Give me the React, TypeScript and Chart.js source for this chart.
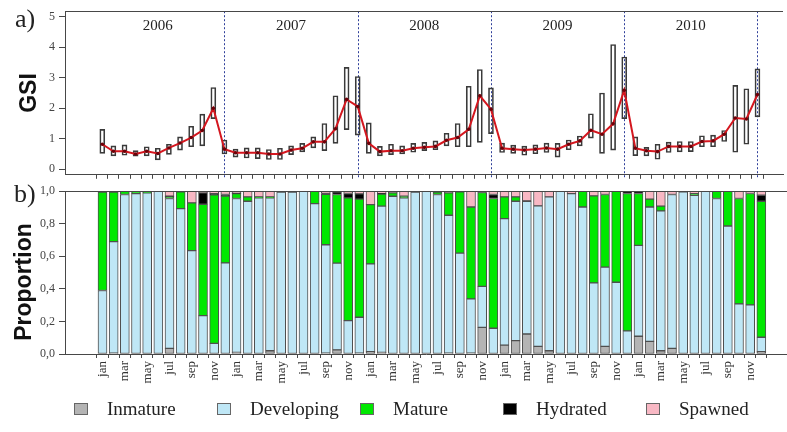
import React, { useEffect, useRef } from 'react';
import { Chart, registerables } from 'chart.js';

Chart.register(...registerables);

// ---------- data ----------
const months = ['jan', 'feb', 'mar', 'apr', 'may', 'jun', 'jul', 'aug', 'sep', 'oct', 'nov', 'dec'];
const years = ['2006', '2007', '2008', '2009', '2010'];

const gsiMedian = [
  0.82, 0.59, 0.59, 0.5, 0.59, 0.52, 0.7, 0.86, 1.04, 1.27, 2.0, 0.66,
  0.54, 0.54, 0.54, 0.5, 0.5, 0.63, 0.69, 0.9, 0.9, 1.33, 2.29, 2.06,
  0.85, 0.58, 0.61, 0.61, 0.69, 0.72, 0.75, 0.95, 1.04, 1.31, 2.41, 1.97,
  0.69, 0.66, 0.63, 0.66, 0.7, 0.66, 0.82, 0.93, 1.28, 1.15, 1.49, 2.59,
  0.69, 0.61, 0.58, 0.75, 0.75, 0.75, 0.91, 0.93, 1.15, 1.68, 1.65, 2.45,
];
const gsiQ1 = [
  0.52, 0.44, 0.46, 0.43, 0.44, 0.31, 0.49, 0.63, 0.74, 0.77, 1.66, 0.5,
  0.4, 0.37, 0.35, 0.32, 0.32, 0.48, 0.57, 0.7, 0.61, 0.85, 1.3, 1.12,
  0.52, 0.44, 0.48, 0.5, 0.56, 0.61, 0.64, 0.77, 0.74, 0.74, 0.88, 1.17,
  0.55, 0.52, 0.46, 0.51, 0.55, 0.4, 0.64, 0.77, 1.02, 0.52, 0.63, 1.66,
  0.45, 0.44, 0.33, 0.55, 0.57, 0.58, 0.74, 0.74, 0.91, 0.56, 0.82, 1.72,
];
const gsiQ3 = [
  1.31, 0.77, 0.8, 0.61, 0.74, 0.69, 0.82, 1.06, 1.41, 1.81, 2.68, 0.96,
  0.66, 0.7, 0.7, 0.65, 0.69, 0.77, 0.85, 1.06, 1.5, 2.41, 3.34, 3.04,
  1.52, 0.75, 0.82, 0.77, 0.85, 0.88, 0.93, 1.18, 1.5, 2.72, 3.27, 2.67,
  0.86, 0.79, 0.76, 0.8, 0.86, 0.85, 0.96, 1.09, 1.82, 2.5, 4.09, 3.68,
  1.06, 0.72, 0.82, 0.89, 0.91, 0.91, 1.1, 1.12, 1.27, 2.75, 2.64, 3.29,
];

const inmature = [
  0, 0.005, 0, 0, 0, 0, 0.035, 0, 0, 0, 0, 0,
  0.01, 0, 0, 0.02, 0, 0, 0, 0, 0.005, 0.025, 0, 0.005,
  0.015, 0.01, 0, 0, 0, 0, 0, 0.005, 0, 0.005, 0.164, 0,
  0.055, 0.082, 0.123, 0.047, 0.02, 0, 0, 0, 0, 0.047, 0, 0,
  0.109, 0.078, 0.02, 0.035, 0, 0, 0, 0, 0, 0, 0, 0.015,
];
const developing = [
  0.39, 0.685, 0.98, 0.985, 0.99, 1.0, 0.92, 0.893, 0.635, 0.236, 0.065, 0.56,
  0.945, 0.938, 0.96, 0.94, 0.995, 0.995, 1.0, 0.924, 0.666, 0.533, 0.205, 0.221,
  0.539, 0.898, 0.969, 0.959, 0.995, 1.0, 0.98, 0.847, 0.62, 0.334, 0.251, 0.158,
  0.777, 0.856, 0.815, 0.863, 0.945, 1.0, 0.985, 0.903, 0.437, 0.487, 0.441, 0.142,
  0.558, 0.825, 0.859, 0.945, 0.996, 0.975, 1.0, 0.955, 0.786, 0.308, 0.302, 0.088,
];
const mature = [
  0.605, 0.305, 0.02, 0.012, 0.005, 0, 0.01, 0.103, 0.293, 0.684, 0.913, 0.41,
  0.03, 0.027, 0.005, 0.005, 0, 0.005, 0, 0.076, 0.31, 0.422, 0.754, 0.725,
  0.364, 0.074, 0.021, 0.01, 0, 0, 0.015, 0.138, 0.376, 0.564, 0.577, 0.797,
  0.133, 0.027, 0, 0, 0, 0, 0, 0.097, 0.534, 0.446, 0.559, 0.844,
  0.319, 0.048, 0.029, 0, 0, 0.01, 0, 0.045, 0.214, 0.647, 0.684, 0.835,
];
const hydrated = [
  0.005, 0.005, 0, 0.003, 0.005, 0, 0.005, 0, 0, 0.07, 0.007, 0.01,
  0.003, 0, 0, 0, 0.005, 0, 0, 0, 0.005, 0.015, 0.027, 0.033,
  0, 0.003, 0, 0, 0.005, 0, 0.005, 0, 0, 0, 0.005, 0.025,
  0, 0, 0.002, 0, 0, 0, 0, 0, 0, 0, 0, 0.014,
  0.014, 0, 0, 0, 0.004, 0, 0, 0, 0, 0, 0, 0.037,
];
const spawned = [
  0, 0, 0, 0, 0, 0, 0.03, 0.004, 0.072, 0.01, 0.015, 0.02,
  0.012, 0.035, 0.035, 0.035, 0, 0, 0, 0, 0.014, 0.005, 0.014, 0.016,
  0.082, 0.015, 0.01, 0.031, 0, 0, 0, 0.01, 0.004, 0.097, 0.003, 0.02,
  0.035, 0.035, 0.06, 0.09, 0.035, 0, 0.015, 0, 0.029, 0.02, 0, 0,
  0, 0.049, 0.092, 0.02, 0, 0.015, 0, 0, 0, 0.045, 0.014, 0.025,
];

const stageNames = ['Inmature', 'Developing', 'Mature', 'Hydrated', 'Spawned'];
const stageValues = [inmature, developing, mature, hydrated, spawned];
const stageColors = ['#b4b4b4', '#bfe7f6', '#00e800', '#000000', '#f8b8c4'];

const gsiTicks = [0, 1, 2, 3, 4, 5];
const propTicks = [0, 0.2, 0.4, 0.6, 0.8, 1.0];

// ---------- layout constants ----------
const X_MIN = -2.82;
const X_MAX = 60.76;
const AXIS_COLOR = '#474747';
const SERIF = '"Liberation Serif", "Times New Roman", serif';
const SANS = '"Liberation Sans", Arial, sans-serif';

const monthIdx = gsiMedian.map((_, i) => i);

const boxPlugin = {
  id: 'topDecor',
  beforeDatasetsDraw(chart: any) {
    const { ctx, chartArea, scales } = chart;
    ctx.save();
    ctx.strokeStyle = '#2f3f9a';
    ctx.lineWidth = 1;
    ctx.setLineDash([2, 2]);
    for (let y = 0; y < years.length; y++) {
      const px = Math.round(scales.x.getPixelForValue(y * 12 + 11)) + 0.5;
      ctx.beginPath();
      ctx.moveTo(px, chartArea.top);
      ctx.lineTo(px, chartArea.bottom + 4);
      ctx.stroke();
    }
    ctx.restore();
  },
  afterDraw(chart: any) {
    const { ctx, chartArea, scales } = chart;
    ctx.save();
    ctx.strokeStyle = AXIS_COLOR;
    ctx.lineWidth = 1;
    ctx.beginPath();
    ctx.moveTo(chartArea.left, Math.round(chartArea.top) + 0.5);
    ctx.lineTo(chartArea.right, Math.round(chartArea.top) + 0.5);
    ctx.stroke();
    ctx.fillStyle = '#222';
    ctx.font = `15px ${SERIF}`;
    ctx.textAlign = 'center';
    ctx.textBaseline = 'alphabetic';
    years.forEach((yr, k) => {
      ctx.fillText(yr, scales.x.getPixelForValue(k * 12 + 5), 30);
    });
    ctx.textAlign = 'left';
    ctx.font = `26px ${SERIF}`;
    ctx.fillText('a)', 15, 27);
    ctx.restore();
  },
};

const bottomPlugin = {
  id: 'bottomDecor',
  afterDraw(chart: any) {
    const { ctx, chartArea } = chart;
    ctx.save();
    ctx.strokeStyle = AXIS_COLOR;
    ctx.lineWidth = 1;
    ctx.beginPath();
    ctx.moveTo(chartArea.left, Math.round(chartArea.top) + 0.5);
    ctx.lineTo(chartArea.right, Math.round(chartArea.top) + 0.5);
    ctx.stroke();
    ctx.fillStyle = '#222';
    ctx.font = `26px ${SERIF}`;
    ctx.textAlign = 'left';
    ctx.textBaseline = 'alphabetic';
    ctx.fillText('b)', 14, 22);
    // y-axis title
    ctx.save();
    ctx.translate(25, 102);
    ctx.rotate(-Math.PI / 2);
    ctx.font = `bold 23px ${SANS}`;
    ctx.fillStyle = '#111';
    ctx.textAlign = 'center';
    ctx.textBaseline = 'middle';
    ctx.fillText('Proportion', 0, 0);
    ctx.restore();
    // legend
    const yc = 229;
    ctx.font = `19px ${SERIF}`;
    ctx.textBaseline = 'middle';
    stageNames.forEach((name, k) => {
      const bx = 74 + 143 * k;
      ctx.fillStyle = stageColors[k];
      ctx.fillRect(bx, yc - 6, 14, 12);
      ctx.strokeStyle = '#666';
      ctx.strokeRect(bx + 0.5, yc - 5.5, 13, 11);
      ctx.fillStyle = '#222';
      ctx.fillText(name, bx + 33, yc + 1);
    });
    ctx.restore();
  },
};

export default function App() {
  const topRef = useRef<HTMLCanvasElement>(null);
  const botRef = useRef<HTMLCanvasElement>(null);

  useEffect(() => {
    const tickFont = { family: SERIF, size: 12 };
    const top = new Chart(topRef.current as HTMLCanvasElement, {
      type: 'bar',
      data: {
        datasets: [
          {
            type: 'line',
            label: 'GSI',
            data: gsiMedian.map((v, i) => ({ x: i, y: v })),
            borderColor: '#d4171f',
            borderWidth: 2,
            pointRadius: 1.8,
            pointBackgroundColor: '#6e0008',
            pointBorderWidth: 0,
            tension: 0,
            order: 0,
          } as any,
          {
            type: 'bar',
            label: 'GSI box',
            data: gsiQ1.map((v, i) => ({ x: i, y: [v, gsiQ3[i]] })),
            backgroundColor: 'rgba(255,255,255,0)',
            borderColor: '#3a3a3a',
            borderWidth: 1,
            borderSkipped: false,
            barThickness: 5,
            order: 1,
          } as any,
        ],
      },
      options: {
        animation: false,
        responsive: false,
        maintainAspectRatio: false,
        layout: { padding: { top: 11, left: 0, right: 0, bottom: 0 } },
        plugins: { legend: { display: false }, tooltip: { enabled: false } },
        scales: {
          x: {
            type: 'linear',
            min: X_MIN,
            max: X_MAX,
            afterBuildTicks: (s: any) => {
              s.ticks = monthIdx.map((i) => ({ value: i }));
            },
            ticks: { display: false },
            grid: { drawOnChartArea: false, drawTicks: true, tickLength: 4, color: AXIS_COLOR },
            border: { color: AXIS_COLOR },
            afterFit: (s: any) => {
              s.height = 8;
            },
          },
          y: {
            type: 'linear',
            min: -0.18,
            max: 5.18,
            afterBuildTicks: (s: any) => {
              s.ticks = gsiTicks.map((v) => ({ value: v }));
            },
            ticks: { font: tickFont, color: '#444', padding: 4 },
            grid: { drawOnChartArea: false, drawTicks: true, tickLength: 6, color: AXIS_COLOR },
            border: { color: AXIS_COLOR },
            title: {
              display: true,
              text: 'GSI',
              color: '#111',
              font: { family: SANS, size: 23, weight: 'bold' },
              padding: { top: 16, bottom: 0 },
            },
            afterFit: (s: any) => {
              s.width = 65;
            },
          },
        },
      } as any,
      plugins: [boxPlugin],
    });

    const bottom = new Chart(botRef.current as HTMLCanvasElement, {
      type: 'bar',
      data: {
        datasets: stageNames.map((name, k) => ({
          label: name,
          data: stageValues[k].map((v, i) => ({ x: i, y: v > 0 ? v : null })),
          backgroundColor: stageColors[k],
          borderColor: '#4f4f4f',
          borderWidth: 1,
          borderSkipped: false,
          barThickness: 9,
          stack: 'p',
        })) as any,
      },
      options: {
        animation: false,
        responsive: false,
        maintainAspectRatio: false,
        layout: { padding: { top: 11, left: 0, right: 0, bottom: 38 } },
        plugins: { legend: { display: false }, tooltip: { enabled: false } },
        scales: {
          x: {
            type: 'linear',
            stacked: true,
            min: X_MIN,
            max: X_MAX,
            afterBuildTicks: (s: any) => {
              s.ticks = monthIdx.map((i) => ({ value: i }));
            },
            ticks: {
              autoSkip: false,
              minRotation: 90,
              maxRotation: 90,
              padding: 3,
              font: { family: SERIF, size: 13 },
              color: '#333',
              callback: (v: any) => {
                const n = Math.round(Number(v));
                return n % 2 === 0 ? months[n % 12] : '';
              },
            },
            grid: { drawOnChartArea: false, drawTicks: true, tickLength: 4, color: AXIS_COLOR },
            border: { color: AXIS_COLOR },
            afterFit: (s: any) => {
              s.height = 40;
            },
          },
          y: {
            type: 'linear',
            stacked: true,
            min: 0,
            max: 1,
            afterBuildTicks: (s: any) => {
              s.ticks = propTicks.map((v) => ({ value: v }));
            },
            ticks: {
              font: tickFont,
              color: '#444',
              padding: 4,
              callback: (v: any) => Number(v).toFixed(1).replace('.', ','),
            },
            grid: { drawOnChartArea: false, drawTicks: true, tickLength: 6, color: AXIS_COLOR },
            border: { color: AXIS_COLOR },
            afterFit: (s: any) => {
              s.width = 65;
            },
          },
        },
      } as any,
      plugins: [bottomPlugin],
    });

    return () => {
      top.destroy();
      bottom.destroy();
    };
  }, []);

  return (
    <div style={{ position: 'fixed', left: 0, top: 0, width: 787, height: 432, background: '#fff' }}>
      <canvas
        ref={topRef}
        width={787}
        height={186}
        style={{ position: 'absolute', left: 0, top: 0, width: 787, height: 186 }}
      />
      <canvas
        ref={botRef}
        width={787}
        height={252}
        style={{ position: 'absolute', left: 0, top: 180, width: 787, height: 252 }}
      />
    </div>
  );
}
